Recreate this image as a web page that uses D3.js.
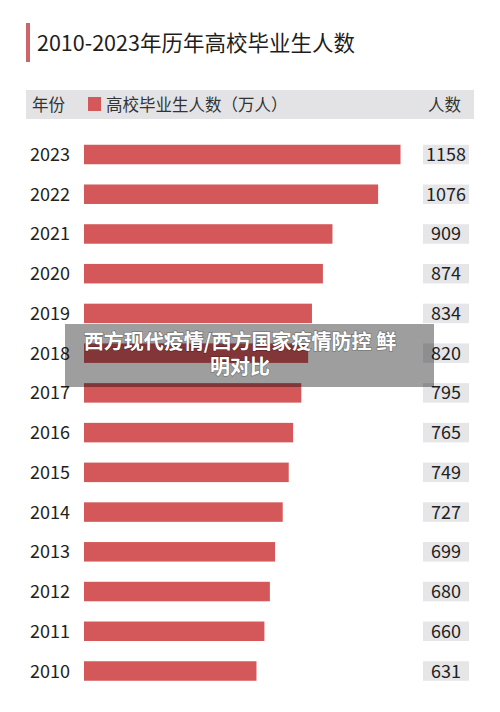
<!DOCTYPE html>
<html lang="en">
<head>
  <meta charset="utf-8">
  <title>2010-2023 Graduates</title>
  <script src="https://d3js.org/d3.v7.min.js"></script>
  <style type="text/css">
    body { margin: 0; background: #fff; }
    text { font-family: "Noto Sans CJK SC", "Noto Sans", sans-serif; }
  </style>
</head>
<body>
  <script type="text/javascript">

const years = ["2023", "2022", "2021", "2020", "2019", "2018", "2017", "2016", "2015", "2014", "2013", "2012", "2011", "2010"];
const graduates = [1158, 1076, 909, 874, 834, 820, 795, 765, 749, 727, 699, 680, 660, 631];
const titleText = "2010-2023年历年高校毕业生人数";
const headerLabels = ["年份", "高校毕业生人数（万人）", "人数"];
const overlayLines = ["西方现代疫情/西方国家疫情防控 鲜", "明对比"];

const data = years.map((y, i) => ({ year: y, value: graduates[i] }));

const svgWidth = 500;
const svgHeight = 712;
const barColor = "#d4585a";

const svg = d3.select("body")
    .append("svg")
    .attr("width", svgWidth)
    .attr("height", svgHeight);

// title with accent bar
svg.append("rect")
    .attr("x", 26)
    .attr("y", 23)
    .attr("width", 4)
    .attr("height", 39)
    .attr("fill", "#cf6467");

svg.append("text")
    .attr("x", 37)
    .attr("y", 51)
    .attr("font-size", 21.5)
    .attr("fill", "#1e1e1e")
    .text(titleText);

// header band
svg.append("rect")
    .attr("x", 26)
    .attr("y", 90)
    .attr("width", 448)
    .attr("height", 29)
    .attr("fill", "#e3e3e5");

svg.append("text")
    .attr("x", 32)
    .attr("y", 111)
    .attr("font-size", 16.5)
    .attr("fill", "#333")
    .text(headerLabels[0]);

svg.append("rect")
    .attr("x", 88)
    .attr("y", 97)
    .attr("width", 13)
    .attr("height", 14)
    .attr("fill", barColor);

svg.append("text")
    .attr("x", 106)
    .attr("y", 111)
    .attr("font-size", 16.5)
    .attr("fill", "#333")
    .text(headerLabels[1]);

svg.append("text")
    .attr("x", 461)
    .attr("y", 111)
    .attr("font-size", 16.5)
    .attr("text-anchor", "end")
    .attr("fill", "#333")
    .text(headerLabels[2]);

const xScale = d3.scaleLinear()
    .domain([0, 1200])
    .range([84, 412]);

const yScale = d3.scalePoint()
    .domain(years)
    .range([154.5, 671]);

const barH = 19.5;

const rows = svg.selectAll("g.row")
    .data(data)
    .enter()
    .append("g")
    .attr("class", "row")
    .attr("transform", d => `translate(0, ${yScale(d.year)})`);

rows.append("text")
    .attr("x", 30)
    .attr("y", 6.5)
    .attr("font-size", 18)
    .attr("fill", "#222")
    .text(d => d.year);

rows.append("rect")
    .attr("x", xScale(0))
    .attr("y", -barH / 2)
    .attr("width", d => xScale(d.value) - xScale(0))
    .attr("height", barH)
    .attr("fill", barColor);

rows.append("rect")
    .attr("x", 423)
    .attr("y", -barH / 2)
    .attr("width", 46)
    .attr("height", barH)
    .attr("fill", "#e6e6e8");

rows.append("text")
    .attr("x", 446)
    .attr("y", 6.5)
    .attr("font-size", 18)
    .attr("text-anchor", "middle")
    .attr("fill", "#222")
    .text(d => d.value);

// watermark caption box
svg.append("rect")
    .attr("x", 65)
    .attr("y", 324)
    .attr("width", 369)
    .attr("height", 63)
    .attr("fill", "rgba(0,0,0,0.38)");

svg.selectAll("text.overlay")
    .data(overlayLines)
    .enter()
    .append("text")
    .attr("class", "overlay")
    .attr("x", 240)
    .attr("y", (d, i) => 349 + i * 25)
    .attr("font-size", 20)
    .attr("font-weight", "bold")
    .attr("text-anchor", "middle")
    .attr("fill", "#fff")
    .style("paint-order", "stroke")
    .attr("stroke", "rgba(0,0,0,0.25)")
    .attr("stroke-width", 1.5)
    .text(d => d);

  </script>
</body>
</html>
